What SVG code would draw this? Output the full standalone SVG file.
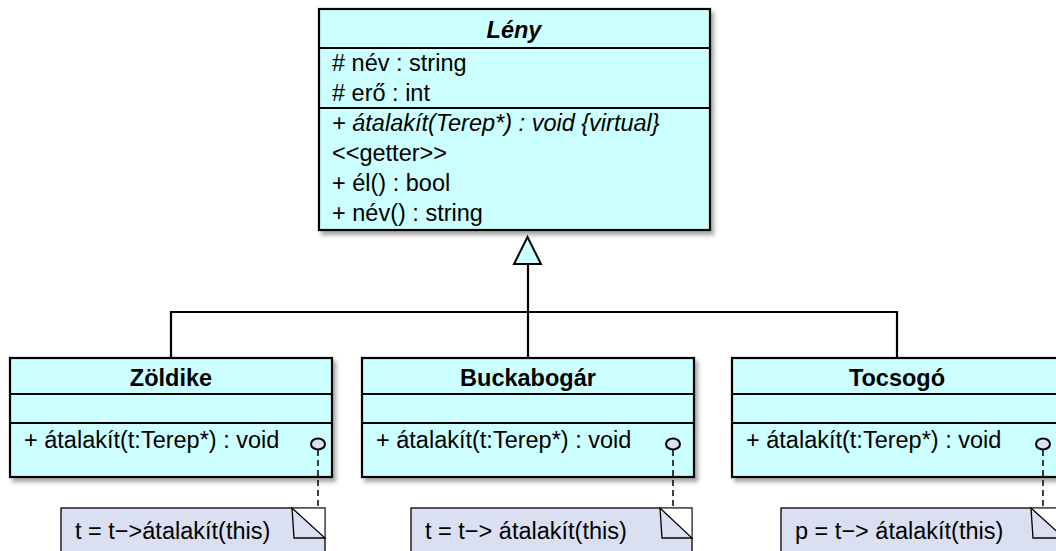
<svg xmlns="http://www.w3.org/2000/svg" width="1056" height="551" viewBox="0 0 1056 551">
<defs>
<filter id="sh" x="-5%" y="-5%" width="115%" height="120%">
<feDropShadow dx="3" dy="4" stdDeviation="2" flood-color="#000" flood-opacity="0.35"/>
</filter>
</defs>
<style>
text{font-family:"Liberation Sans",Arial,sans-serif;font-size:23.5px;fill:#000}
.t{font-weight:bold;text-anchor:middle}
.i{font-style:italic}
.box{fill:#ccffff;stroke:#000;stroke-width:2.2}
.div{stroke:#000;stroke-width:1.8}
.ln{stroke:#000;stroke-width:2.2;fill:none}
.note{fill:#dae0f2;stroke:#000;stroke-width:1.3}
.fold{fill:#fff;stroke:none}
.dash{stroke:#000;stroke-width:1.5;stroke-dasharray:6 4}
.lp{fill:#dae0f2;stroke:#000;stroke-width:2}
</style>
<rect width="1056" height="551" fill="#fff"/>
<g id="leny">
<rect class="box" x="319" y="9" width="391" height="221" filter="url(#sh)"/>
<line class="div" x1="319" y1="48" x2="710" y2="48"/>
<line class="div" x1="319" y1="108" x2="710" y2="108"/>
<text class="t i" x="514" y="38">Lény</text>
<text x="332" y="71"># név : string</text>
<text x="332" y="101"># erő : int</text>
<text class="i" x="332" y="131">+ átalakít(Terep*) : void {virtual}</text>
<text x="332" y="161">&lt;&lt;getter&gt;&gt;</text>
<text x="332" y="191">+ él() : bool</text>
<text x="332" y="221">+ név() : string</text>
</g>
<g id="zoldike">
<rect class="box" x="10" y="358" width="322" height="119" filter="url(#sh)"/>
<line class="div" x1="10" y1="394" x2="332" y2="394"/>
<line class="div" x1="10" y1="423" x2="332" y2="423"/>
<text class="t" x="171" y="386">Zöldike</text>
<text x="24" y="448">+ átalakít(t:Terep*) : void</text>
</g>
<g id="buckabogar">
<rect class="box" x="362" y="358" width="332" height="119" filter="url(#sh)"/>
<line class="div" x1="362" y1="394" x2="694" y2="394"/>
<line class="div" x1="362" y1="423" x2="694" y2="423"/>
<text class="t" x="528" y="386">Buckabogár</text>
<text x="376" y="448">+ átalakít(t:Terep*) : void</text>
</g>
<g id="tocsogo">
<rect class="box" x="732" y="358" width="332" height="119" filter="url(#sh)"/>
<line class="div" x1="732" y1="394" x2="1064" y2="394"/>
<line class="div" x1="732" y1="423" x2="1064" y2="423"/>
<text class="t" x="897" y="386">Tocsogó</text>
<text x="746" y="448">+ átalakít(t:Terep*) : void</text>
</g>
<g id="note1">
<rect class="note" x="61" y="508" width="264" height="60"/>
<polygon class="fold" points="293,508.7 324.3,508.7 324.3,538"/>
<polygon class="note" points="292,508 294,538 325,538"/>
<text x="75" y="539">t = t−&gt;átalakít(this)</text>
</g>
<g id="note2">
<rect class="note" x="411" y="508" width="281" height="60"/>
<polygon class="fold" points="661,508.7 691.3,508.7 691.3,538"/>
<polygon class="note" points="660,508 662,538 692,538"/>
<text x="425" y="539">t = t−&gt; átalakít(this)</text>
</g>
<g id="note3">
<rect class="note" x="781" y="508" width="283" height="60"/>
<polygon class="fold" points="1032,508.7 1063,508.7 1063,538"/>
<polygon class="note" points="1031,508 1033,538 1064,538"/>
<text x="795" y="539">p = t−&gt; átalakít(this)</text>
</g>
<g id="connectors">
<polyline class="ln" points="171,358 171,312 897,312 897,358"/>
<line class="ln" x1="528" y1="263" x2="528" y2="358"/>
<polygon points="527.5,237 514,264 541,264" fill="#ccffff" stroke="#000" stroke-width="2"/>
<line class="dash" x1="318" y1="450" x2="318" y2="508"/>
<line class="dash" x1="673" y1="450" x2="673" y2="508"/>
<line class="dash" x1="1043" y1="450" x2="1043" y2="508"/>
<ellipse class="lp" cx="318" cy="444" rx="7" ry="5.5"/>
<ellipse class="lp" cx="673" cy="444" rx="7" ry="5.5"/>
<ellipse class="lp" cx="1043" cy="444" rx="7" ry="5.5"/>
</g>
</svg>
